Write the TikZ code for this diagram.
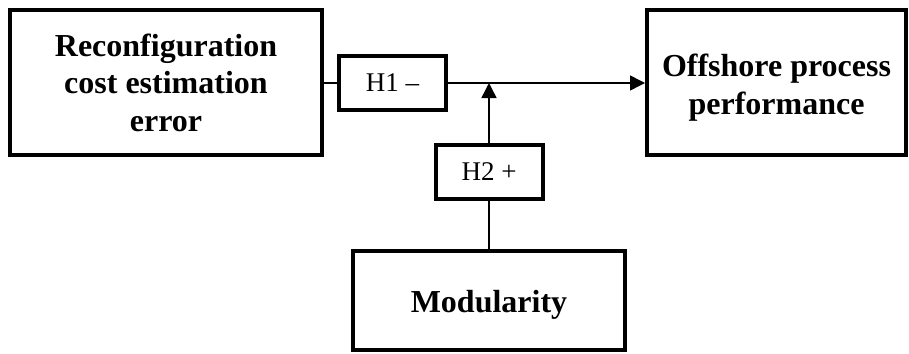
\documentclass[tikz,border=0pt]{standalone}
\usepackage{fontspec}
\setmainfont{Liberation Serif}
\usetikzlibrary{arrows.meta}
\tikzset{
  bigbox/.style={draw, line width=4pt, inner sep=0pt, align=center,
    font=\fontsize{32}{37.5}\selectfont\bfseries},
  hypbox/.style={draw, line width=4pt, inner sep=0pt,
    minimum width=107pt, minimum height=54pt,
    font=\fontsize{27}{30}\selectfont},
  link/.style={line width=1.5pt},
  arr/.style={line width=1.5pt, -{Triangle[length=15pt,width=15pt]}}
}
\begin{document}
\begin{tikzpicture}[x=1pt,y=-1pt]
\useasboundingbox (0,0) rectangle (909,353);
\node[bigbox, minimum width=312pt, minimum height=145pt] (rc) at (166,82.5)
  {Reconfiguration\\cost estimation\\error};
\node[bigbox, minimum width=259pt, minimum height=145pt] (op) at (776.5,82.5)
  {\rule{0pt}{32.5pt}Offshore process\\performance};
\node[bigbox, minimum width=272pt, minimum height=99pt] (mod) at (489,300.5)
  {\rule{0pt}{31pt}Modularity};
\node[hypbox] (h1) at (392.5,83) {H1 --};
\node[hypbox] (h2) at (489,172) {H2 +};
\coordinate (j) at (489,83);
\draw[link] (rc.east |- h1.west) -- (h1.west);
\draw[arr] (h1.east) -- (op.west |- h1.east);
\draw[link] (mod.north) -- (h2.south);
\draw[arr] (h2.north) -- (j);
\end{tikzpicture}
\end{document}
